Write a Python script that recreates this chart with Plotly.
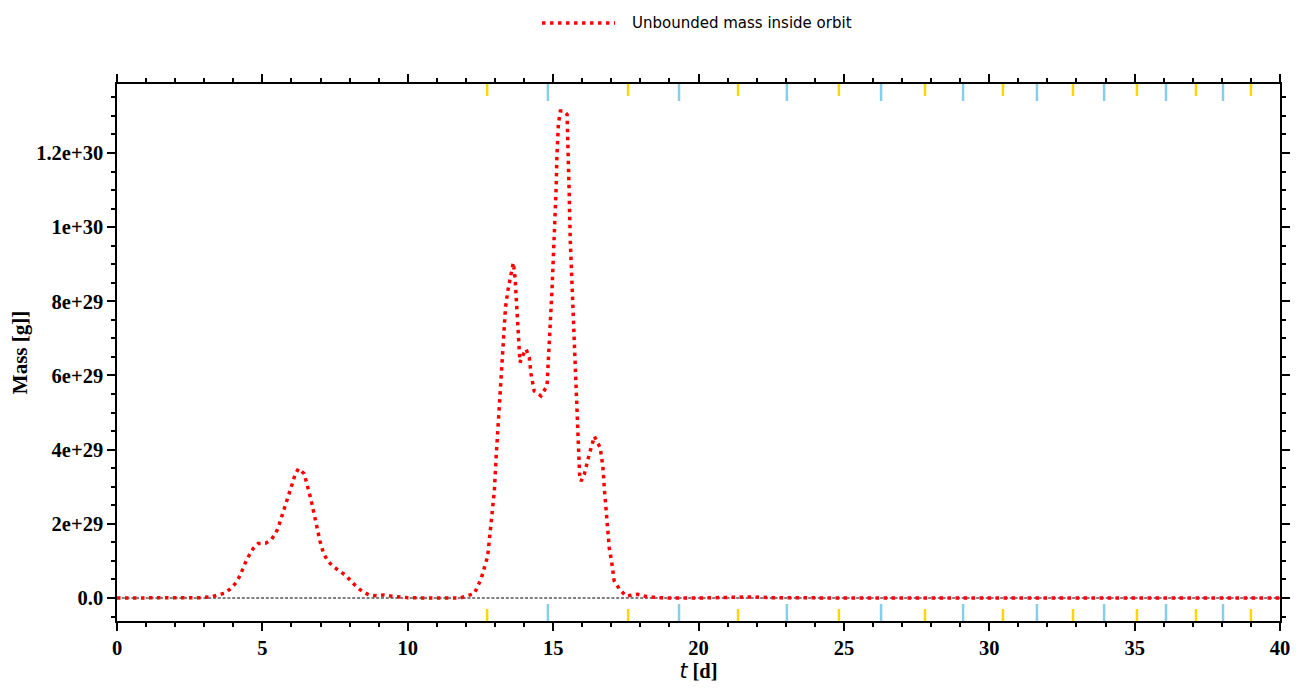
import plotly.graph_objects as go

# ---- data ----
t_days = [0, 0.5, 1.0, 1.5, 2.0, 2.5, 2.89, 3.23, 3.46, 3.71, 3.92, 4.09, 4.23, 4.32, 4.43, 4.55,
          4.69, 4.86, 5.12, 5.32, 5.47, 5.56, 5.65, 5.73, 5.82, 5.89, 5.96, 6.04, 6.12, 6.24,
          6.44, 6.51, 6.58, 6.64, 6.70, 6.75, 6.81, 6.87, 6.92, 6.98, 7.05, 7.13, 7.27, 7.45,
          7.65, 7.88, 8.07, 8.24, 8.45, 8.68, 8.93, 9.19, 9.45, 9.71, 10.0, 10.5, 11.0, 11.26,
          11.8, 12.29, 12.52, 12.75, 12.86, 12.98, 13.04, 13.11, 13.17, 13.24, 13.29, 13.36,
          13.44, 13.55, 13.63, 13.69, 13.76, 13.80, 13.86, 13.95, 14.07, 14.18, 14.24, 14.35,
          14.58, 14.79, 14.83, 14.90, 14.96, 15.01, 15.05, 15.10, 15.13, 15.18, 15.25, 15.38,
          15.48, 15.51, 15.55, 15.59, 15.64, 15.68, 15.73, 15.78, 15.82, 15.88, 15.91, 15.96,
          16.07, 16.24, 16.42, 16.62, 16.71, 16.76, 16.84, 16.93, 17.01, 17.10, 17.30, 17.51,
          17.91, 18.2, 18.6, 19.0, 20.0, 21.0, 21.8, 22.5, 23.5, 25.0, 27.0, 29.0, 31.0, 33.0,
          35.0, 37.0, 39.0, 40.0]
mass_1e29 = [0, 0, 0, 0, 0, 0, 0.01, 0.03, 0.07, 0.13, 0.26, 0.41, 0.60, 0.79, 0.98, 1.16,
             1.34, 1.47, 1.48, 1.59, 1.76, 1.94, 2.15, 2.35, 2.54, 2.72, 2.93, 3.11, 3.32, 3.49,
             3.35, 3.16, 2.96, 2.75, 2.55, 2.35, 2.15, 1.94, 1.73, 1.54, 1.34, 1.16, 0.98, 0.84,
             0.73, 0.60, 0.44, 0.30, 0.17, 0.08, 0.06, 0.08, 0.05, 0.03, 0.01, 0.0, 0.0, 0.0,
             0.0, 0.12, 0.51, 1.13, 1.91, 2.90, 3.80, 4.70, 5.58, 6.48, 7.11, 7.82,
             8.28, 8.68, 9.04, 8.64, 7.82, 7.20, 6.35, 6.53, 6.71, 6.48, 6.04, 5.58,
             5.45, 5.72, 6.48, 7.38, 8.28, 9.18, 10.08, 10.98, 11.88, 12.78, 13.13, 13.13,
             13.04, 12.32, 10.98, 9.63, 8.73, 7.82, 6.92, 6.02, 5.12, 4.23, 3.33, 3.15,
             3.33, 3.87, 4.36, 4.05, 3.55, 2.97, 2.16, 1.35, 0.99, 0.46, 0.22, 0.05,
             0.10, 0.04, 0.01, 0.0, 0.0, 0.01, 0.03, 0.01, 0.0, 0.0, 0.0, 0.0, 0.0, 0.0,
             0.0, 0.0, 0.0, 0.0]
mass_g = [v * 1e29 for v in mass_1e29]

yellow_times = [12.73, 17.58, 21.36, 24.83, 27.79, 30.47, 32.88, 35.08, 37.11, 39.00]
blue_times = [14.82, 19.33, 23.04, 26.28, 29.10, 31.64, 33.95, 36.08, 38.04]

zero_x = [0, 40]
zero_y = [0, 0]

y_tick_vals = [0, 2e29, 4e29, 6e29, 8e29, 1e30, 1.2e30]
y_tick_text = ["0.0", "2e+29", "4e+29", "6e+29", "8e+29", "1e+30", "1.2e+30"]
x_tick_vals = [0, 5, 10, 15, 20, 25, 30, 35, 40]
x_tick_text = ["0", "5", "10", "15", "20", "25", "30", "35", "40"]

series_name = "Unbounded mass inside orbit"

# ---- figure ----
serif = "Liberation Serif"
dotted = "3.5px,4.5px"
fig = go.Figure()

fig.add_trace(go.Scatter(x=zero_x, y=zero_y, mode="lines",
                         line=dict(color="black", width=1.2, dash="3px,1.8px"),
                         showlegend=False, hoverinfo="skip"))
fig.add_trace(go.Scatter(x=t_days, y=mass_g, mode="lines", name=series_name,
                         line=dict(color="#ff0000", width=3.5, dash=dotted),
                         showlegend=False))

# orbit marker ticks (top and bottom, inside)
for tv in yellow_times:
    for (a, b) in [(0, 12 / 537), (1 - 12 / 537, 1)]:
        fig.add_shape(type="line", xref="x", yref="paper", x0=tv, x1=tv, y0=a, y1=b,
                      line=dict(color="#FFD700", width=2.5))
for tv in blue_times:
    for (a, b) in [(0, 17 / 537), (1 - 17 / 537, 1)]:
        fig.add_shape(type="line", xref="x", yref="paper", x0=tv, x1=tv, y0=a, y1=b,
                      line=dict(color="#87CEEB", width=2.5))

# legend (manual, matplotlib-like)
fig.add_shape(type="line", xref="paper", yref="paper", x0=0.3654, x1=0.4282,
              y0=1.1136, y1=1.1136, line=dict(color="#ff0000", width=3.5, dash=dotted))
fig.add_annotation(xref="paper", yref="paper", x=0.4411, y=1.1136, xanchor="left",
                   yanchor="middle", showarrow=False, text=series_name,
                   font=dict(family="DejaVu Sans", size=15, color="black"))

y_minor = [i * 5e28 for i in range(-1, 28)]

fig.update_xaxes(range=[0, 40], tickvals=x_tick_vals, ticktext=x_tick_text,
                 ticks="outside", ticklen=8, tickwidth=1.5, tickcolor="black",
                 minor=dict(dtick=1, tick0=0, ticks="outside", ticklen=4, tickwidth=1.5,
                            tickcolor="black"),
                 showline=True, linecolor="black", linewidth=1.5, mirror="ticks",
                 showgrid=False, zeroline=False, automargin=False,
                 tickfont=dict(family=serif, size=20.5, color="black", weight="bold"),
                 title=dict(text="<span style=\"font-family:'DejaVu Sans';font-style:italic;"
                                 "font-weight:normal\">t</span> [d]", standoff=4,
                            font=dict(family=serif, size=20.5, color="black", weight="bold")))
fig.update_yaxes(range=[-0.62e29, 13.86e29], tickvals=y_tick_vals, ticktext=y_tick_text,
                 ticks="outside", ticklen=8, tickwidth=1.5, tickcolor="black",
                 minor=dict(tickvals=y_minor, ticks="outside", ticklen=4, tickwidth=1.5,
                            tickcolor="black"),
                 showline=True, linecolor="black", linewidth=1.5, mirror="ticks",
                 showgrid=False, zeroline=False, automargin=False,
                 tickfont=dict(family=serif, size=20.5, color="black", weight="bold"),
                 title=dict(text="Mass [g]]", standoff=14,
                            font=dict(family=serif, size=21, color="black", weight="bold")))

fig.update_layout(width=1299, height=693, margin=dict(l=109, r=27, t=76, b=80),
                  plot_bgcolor="white", paper_bgcolor="white", showlegend=False)

fig.write_html("out.html")
